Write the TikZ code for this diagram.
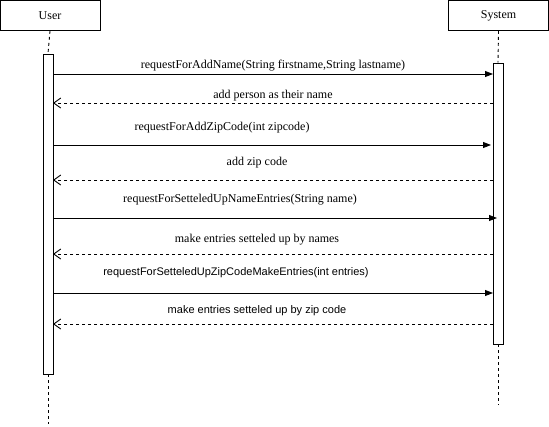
\documentclass[tikz,border=0pt]{standalone}
\usepackage{fontspec}
\setmainfont{Liberation Serif}
\setsansfont{Liberation Sans}
\usetikzlibrary{arrows.meta}
\begin{document}
\begin{tikzpicture}[x=1pt,y=-1pt,
  actor/.style={draw,line width=0.9pt,minimum width=100pt,minimum height=30pt,inner sep=0pt,font=\fontsize{12}{14}\selectfont},
  activation/.style={draw,line width=0.9pt,fill=white,minimum width=10pt,inner sep=0pt},
  lifeline/.style={line width=0.9pt,dash pattern=on 3pt off 3pt},
  callmsg/.style={line width=0.9pt,-{Triangle[length=8pt,width=6pt]}},
  replymsg/.style={line width=0.9pt,dash pattern=on 3pt off 3pt,-{Straight Barb[length=7pt,width=10pt]}},
  lbl/.style={font=\fontsize{12}{14}\selectfont,inner sep=0pt},
  lblsans/.style={font=\sffamily\fontsize{11}{13}\selectfont,inner sep=0pt}]
\useasboundingbox (0,0) rectangle (549,426);
\fill[white] (0,0) rectangle (549,426);

% participants
\node[actor] (user) at (50,15.5) {User};
\node[actor] (sys) at (498.5,15.5) {System};

% activation bars
\node[activation,minimum height=320pt] (ua) at (48,214) {};
\node[activation,minimum height=281pt] (sa) at (498,203.5) {};

% lifelines
\coordinate (uend) at (48,424);
\coordinate (send) at (498,405);
\draw[lifeline] (user.south) -- (ua.north);
\draw[lifeline] (ua.south) -- (uend);
\draw[lifeline] (sys.south) -- (sa.north);
\draw[lifeline] (sa.south) -- (send);

% message end points on the bars
\foreach \n/\y in {1/74,2/103,3/145,4/180,5/218,6/254,7/293,8/324}{
  \coordinate (u\n) at (53,\y);
  \coordinate (s\n) at (493,\y);
}

% messages
\draw[callmsg] (u1) -- (s1);
\node[lbl] (t1) at (273,66) {requestForAddName(String firstname,String lastname)};
\draw[replymsg] (s2) -- (u2);
\node[lbl] (t2) at (273,96) {add person as their name};
\draw[callmsg] (u3) -- ([xshift=-2pt]s3);
\node[lbl] (t3) at (222,128) {requestForAddZipCode(int zipcode)};
\draw[replymsg] (s4) -- (u4);
\node[lbl] (t4) at (257,163) {add zip code};
\draw[callmsg] (u5) -- ([xshift=4pt]s5);
\node[lbl] (t5) at (240,200) {requestForSetteledUpNameEntries(String name)};
\draw[replymsg] (s6) -- (u6);
\node[lbl] (t6) at (257,240) {make entries setteled up by names};
\draw[callmsg] (u7) -- (s7);
\node[lblsans] (t7) at (236,273) {requestForSetteledUpZipCodeMakeEntries(int entries)};
\draw[replymsg] (s8) -- (u8);
\node[lblsans] (t8) at (257,311) {make entries setteled up by zip code};
\end{tikzpicture}
\end{document}
